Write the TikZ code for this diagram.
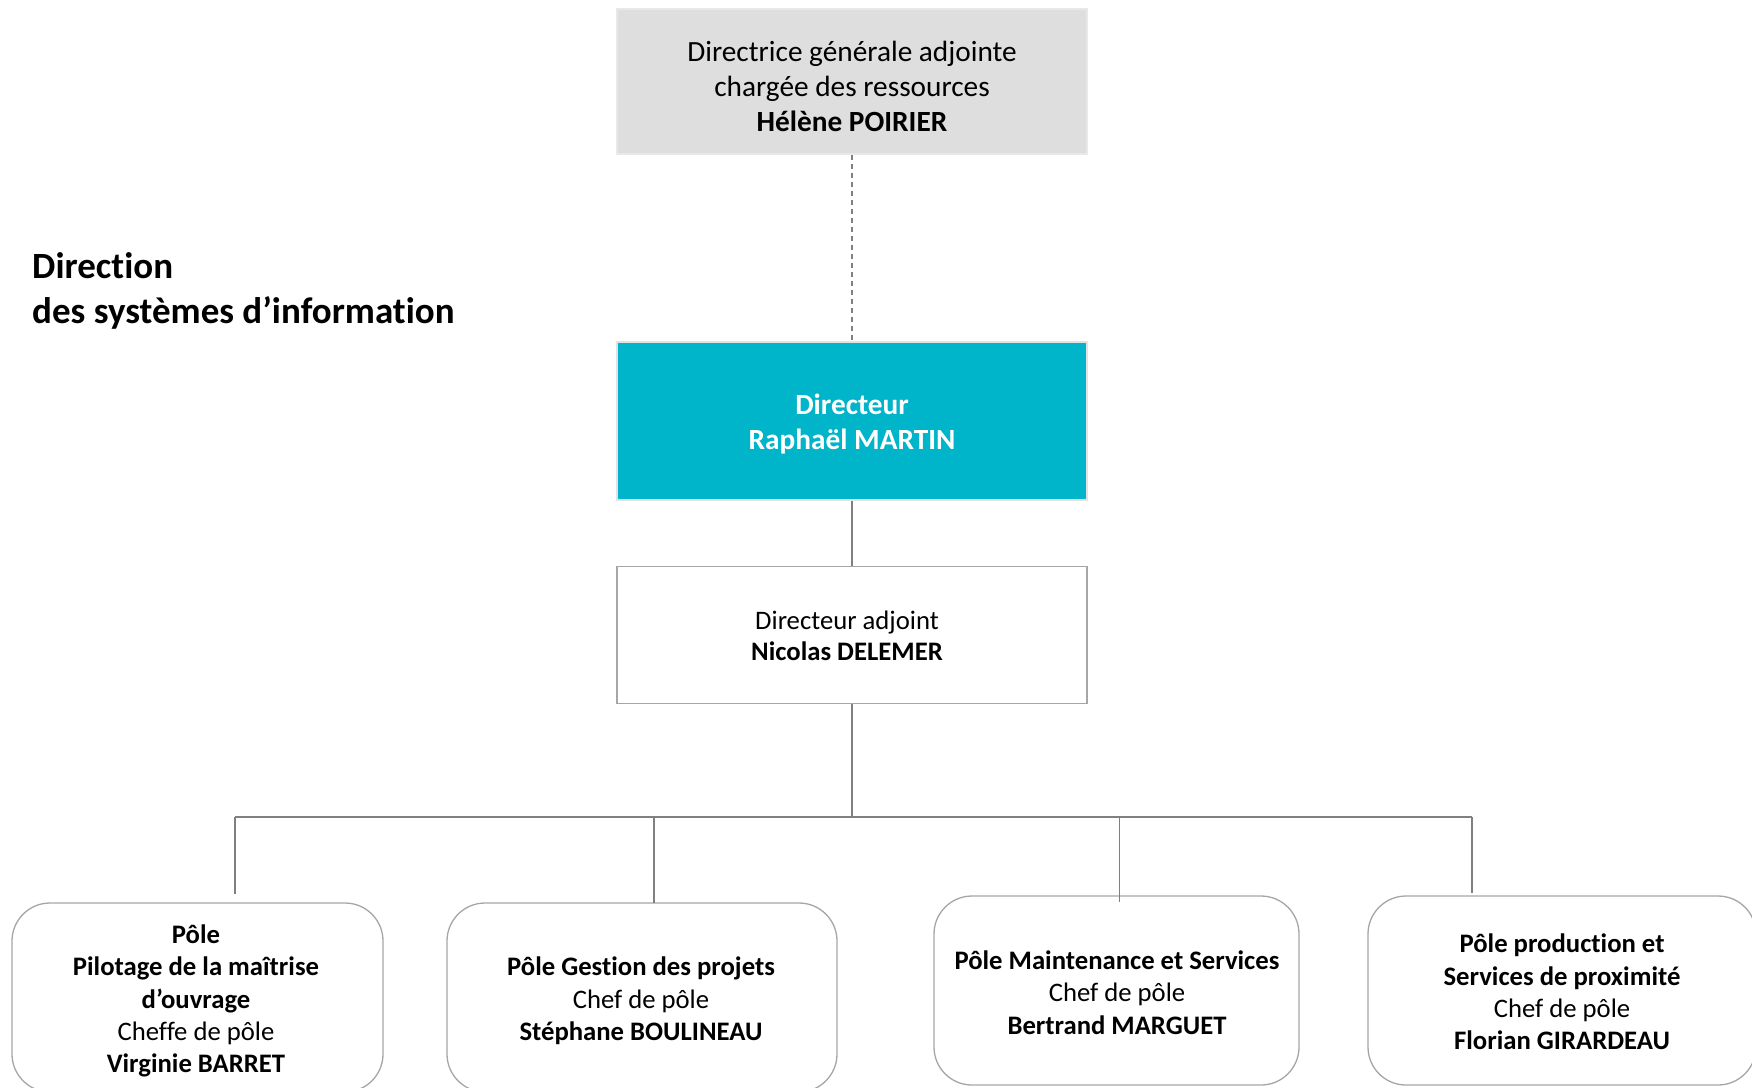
\documentclass[tikz,border=0pt]{standalone}
\usepackage{fontspec}
\setmainfont{Carlito}[Ligatures={NoCommon}, Contextuals={NoAlternate}]
\definecolor{topgray}{HTML}{DEDEDE}
\definecolor{topline}{HTML}{E8E8E8}
\definecolor{dirfill}{HTML}{00B4C9}
\definecolor{dirline}{HTML}{E2E2E2}
\definecolor{boxline}{HTML}{A6A6A6}
\definecolor{connline}{HTML}{808080}
\tikzset{
  topbox/.style={draw=topline, fill=topgray, line width=2pt, minimum width=470pt, minimum height=145pt, inner sep=0pt},
  dirbox/.style={draw=dirline, fill=dirfill, line width=2pt, minimum width=470pt, minimum height=158pt, inner sep=0pt},
  adjbox/.style={draw=boxline, line width=1.3pt, minimum width=470pt, minimum height=137pt, inner sep=0pt},
  polebox/.style={draw=boxline, line width=1.3pt, rounded corners=38pt, minimum height=189pt, inner sep=0pt},
  bigtxt/.style={align=center, font=\fontsize{29.3}{35}\selectfont, inner sep=0pt},
  smalltxt/.style={align=center, font=\fontsize{26.7}{32.3}\selectfont, inner sep=0pt},
  conn/.style={draw=connline, line width=1.4pt},
  dashconn/.style={draw=connline, line width=1.4pt, dash pattern=on 5pt off 4pt},
}
\begin{document}
\begin{tikzpicture}[x=1pt,y=-1pt]
\useasboundingbox (0,0) rectangle (1752,1087);
\fill[white] (0,0) rectangle (1752,1087);

\node[topbox] (top) at (852,81) {};
\node[bigtxt] (toptxt) at (852,86) {Directrice générale adjointe\\chargée des ressources\\\textbf{Hélène POIRIER}};
\node[dirbox] (dir) at (852,421) {};
\node[bigtxt, text=white, font=\fontsize{29.3}{35}\selectfont\bfseries] (dirtxt) at (852,424) {Directeur\\Raphaël MARTIN};
\node[adjbox] (adj) at (852,635) {};
\node[smalltxt, font=\fontsize{26.7}{31.5}\selectfont] (adjtxt) at (847,636) {Directeur adjoint\\\textbf{Nicolas DELEMER}};

\node[anchor=base west, align=left, font=\fontsize{37}{45}\selectfont\bfseries, inner sep=0pt] (title) at (32,323) {Direction\\des systèmes d’information};

\node[polebox, minimum width=371pt] (p1) at (197.5,997.5) {};
\node[smalltxt] (t1) at (196,1001) {\textbf{Pôle}\\\textbf{Pilotage de la maîtrise}\\\textbf{d’ouvrage}\\Cheffe de pôle\\\textbf{Virginie BARRET}};
\node[polebox, minimum width=390pt] (p2) at (642,997.5) {};
\node[smalltxt] (t2) at (641,1001) {\textbf{Pôle Gestion des projets}\\Chef de pôle\\\textbf{Stéphane BOULINEAU}};
\node[polebox, minimum width=365pt] (p3) at (1116.5,990.5) {};
\node[smalltxt] (t3) at (1117,992.5) {\textbf{Pôle Maintenance et Services}\\Chef de pôle\\\textbf{Bertrand MARGUET}};
\node[polebox, minimum width=388pt] (p4) at (1562,990.5) {};
\node[smalltxt] (t4) at (1562,992) {\textbf{Pôle production et}\\\textbf{Services de proximité}\\Chef de pôle\\\textbf{Florian GIRARDEAU}};

\coordinate (bus) at (852,817);
\coordinate (b1) at (235,817);
\coordinate (b2) at (654,817);
\coordinate (b3) at (1119.5,817);
\coordinate (b4) at (1472,817);
\coordinate (e1) at (235,894);
\coordinate (e2) at (654,903);
\coordinate (e3) at (1119.5,902);
\coordinate (e4) at (1472,893);

\draw[dashconn] (top.south) -- (dir.north);
\draw[conn] (dir.south) -- (adj.north);
\draw[conn] (adj.south) -- (bus);
\draw[conn] (b1) -- (b4);
\draw[conn] (b1) -- (e1);
\draw[conn] (b2) -- (e2);
\draw[conn] (b3) -- (e3);
\draw[conn] (b4) -- (e4);
\end{tikzpicture}
\end{document}
